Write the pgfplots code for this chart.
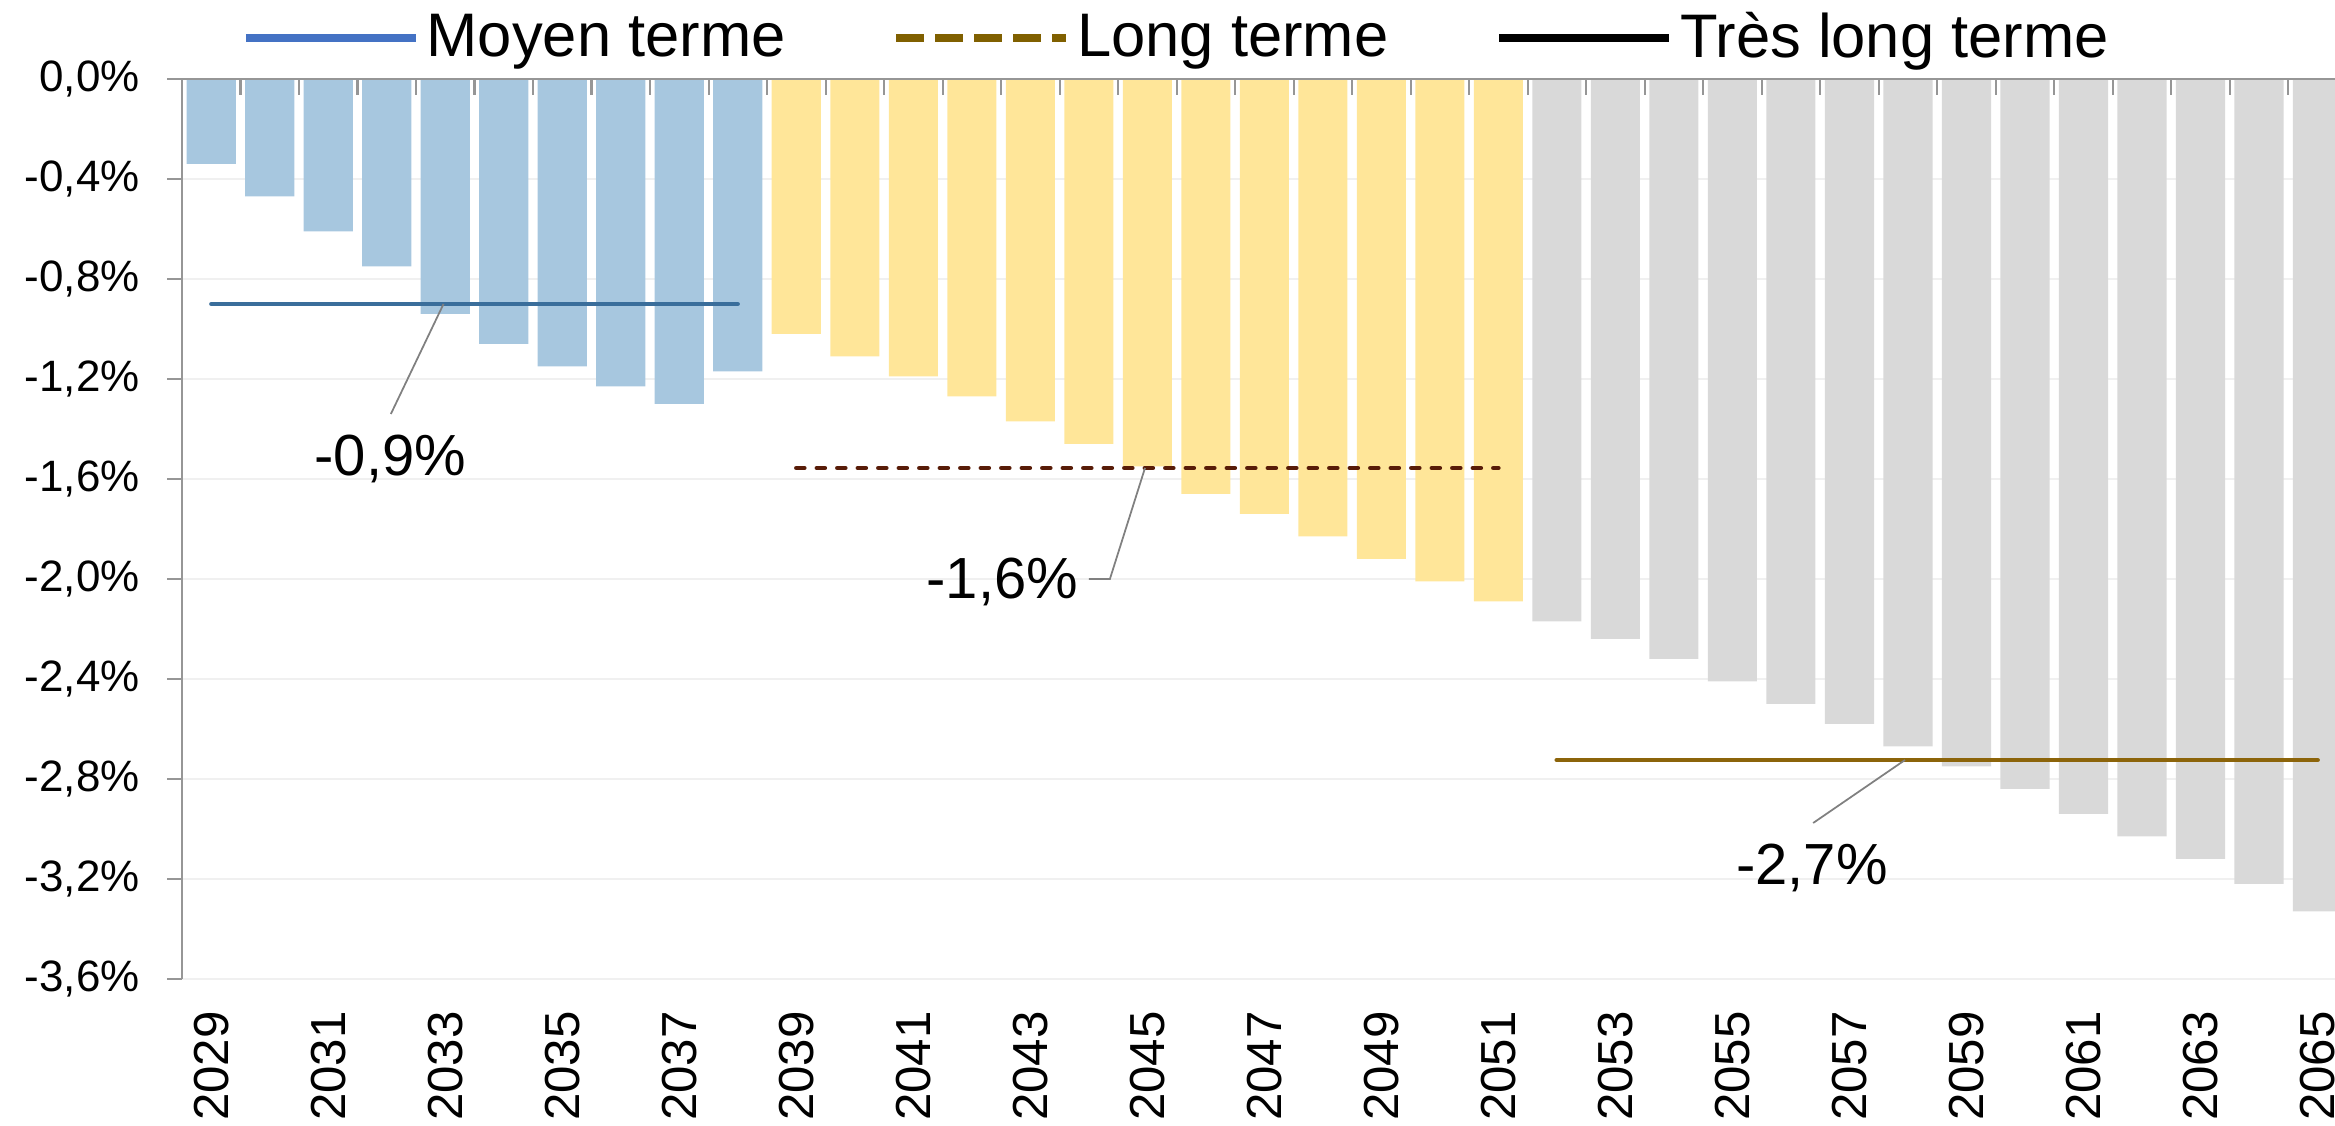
\documentclass[border=0pt]{standalone}
\usepackage{fontspec}
\setmainfont{Liberation Sans}
\usepackage{pgfplots}
\pgfplotsset{compat=1.18}

\definecolor{barblue}{RGB}{167,199,223}
\definecolor{baryellow}{RGB}{255,230,153}
\definecolor{bargray}{RGB}{217,217,217}
\definecolor{lineMoyen}{RGB}{58,110,155}
\definecolor{lineLong}{RGB}{88,28,8}
\definecolor{lineTres}{RGB}{140,100,10}
\definecolor{legMoyen}{RGB}{68,114,196}
\definecolor{legLong}{RGB}{128,96,0}
\definecolor{gridgray}{RGB}{240,240,240}
\definecolor{axisgray}{RGB}{150,150,150}

\begin{document}
\begin{tikzpicture}
\useasboundingbox (0,0) rectangle (233.5mm,112.6mm);
\begin{axis}[
    name=ax,
    at={(18.2mm,14.7mm)}, anchor=south west,
    scale only axis, width=215.3mm, height=90mm,
    xmin=-0.5, xmax=36.3, ymin=-3.6, ymax=0,
    axis line style={draw=none},
    xtick={0,...,36},
    xticklabels={2029,,2031,,2033,,2035,,2037,,2039,,2041,,2043,,2045,,2047,,2049,,2051,,2053,,2055,,2057,,2059,,2061,,2063,,2065},
    minor x tick num=1,
    xtick pos=right, xticklabel pos=left,
    major x tick style={draw=none},
    minor x tick style={draw=axisgray, line width=0.6pt},
    minor tick length=1.6mm,
    tick align=inside,
    ytick={-3.6,-3.2,-2.8,-2.4,-2.0,-1.6,-1.2,-0.8,-0.4,0},
    ytick pos=left,
    ytick style={draw=axisgray, line width=0.6pt, xshift=-1.5mm},
    major tick length=1.5mm,
    ymajorgrids, grid style={draw=gridgray, line width=0.8pt},
    /pgf/number format/assume math mode=true,
    yticklabel={\pgfmathprintnumber[fixed,fixed zerofill,precision=1,use comma]{\tick}\%},
    yticklabel style={font=\fontsize{12.5}{14}\selectfont},
    yticklabel shift=3mm,
    xticklabel style={rotate=90, anchor=east, font=\fontsize{14}{16}\selectfont},
    xticklabel shift=2mm,
    legend columns=3,
    legend image code/.code={\draw[#1] (0mm,0mm) -- (17mm,0mm);},
    legend style={at={(0.463,1.0456)}, anchor=center, draw=none, fill=none,
      inner sep=0pt, font=\fontsize{17.5}{20}\selectfont,
      /tikz/every even column/.append style={column sep=10mm}},
  ]
  % Moyen terme 2029-2038
  \addplot[ybar, bar width=0.84, bar shift=0pt, fill=barblue, draw=none, forget plot]
    coordinates {(0,-0.34) (1,-0.47) (2,-0.61) (3,-0.75) (4,-0.94)
                 (5,-1.06) (6,-1.15) (7,-1.23) (8,-1.30) (9,-1.17)};
  % Long terme 2039-2051
  \addplot[ybar, bar width=0.84, bar shift=0pt, fill=baryellow, draw=none, forget plot]
    coordinates {(10,-1.02) (11,-1.11) (12,-1.19) (13,-1.27) (14,-1.37)
                 (15,-1.46) (16,-1.55) (17,-1.66) (18,-1.74) (19,-1.83)
                 (20,-1.92) (21,-2.01) (22,-2.09)};
  % Tres long terme 2052-2065
  \addplot[ybar, bar width=0.84, bar shift=0pt, fill=bargray, draw=none, forget plot]
    coordinates {(23,-2.17) (24,-2.24) (25,-2.32) (26,-2.41) (27,-2.50)
                 (28,-2.58) (29,-2.67) (30,-2.75) (31,-2.84) (32,-2.94)
                 (33,-3.03) (34,-3.12) (35,-3.22) (36,-3.33)};

  % moyennes par horizon
  \addplot[lineMoyen, line width=1.2pt, line cap=round, forget plot]
    coordinates {(0,-0.90) (9,-0.90)};
  \addplot[lineLong, line width=1.3pt, line cap=round, dash pattern=on 0.8mm off 1.25mm, forget plot]
    coordinates {(10,-1.556) (22,-1.556)};
  \addplot[lineTres, line width=1.4pt, line cap=round, forget plot]
    coordinates {(23,-2.724) (36,-2.724)};

  \addlegendimage{legMoyen, line width=2.2pt}
  \addlegendentry{Moyen terme}
  \addlegendimage{legLong, line width=2.2pt, dash pattern=on 2.8mm off 1.1mm}
  \addlegendentry{Long terme}
  \addlegendimage{black, line width=2.2pt}
  \addlegendentry{Très long terme}

  % etiquettes
  \draw[gray, line width=0.5pt] (axis cs:3.97,-0.90) -- (axis cs:3.07,-1.34);
  \node[font=\fontsize{16.5}{18}\selectfont] at (axis cs:3.06,-1.52) {-0,9\%};
  \draw[gray, line width=0.5pt] (axis cs:15.96,-1.556) -- (axis cs:15.36,-2.0) -- (axis cs:15.0,-2.0);
  \node[font=\fontsize{16.5}{18}\selectfont] at (axis cs:13.52,-2.01) {-1,6\%};
  \draw[gray, line width=0.5pt] (axis cs:28.95,-2.724) -- (axis cs:27.38,-2.976);
  \node[font=\fontsize{16.5}{18}\selectfont] at (axis cs:27.36,-3.156) {-2,7\%};
\end{axis}
% axes visibles : haut (y = 0) et gauche
\draw[axisgray, line width=0.6pt] (ax.north west) -- (ax.north east);
\draw[axisgray, line width=0.6pt] (ax.south west) -- (ax.north west);
\end{tikzpicture}
\end{document}
